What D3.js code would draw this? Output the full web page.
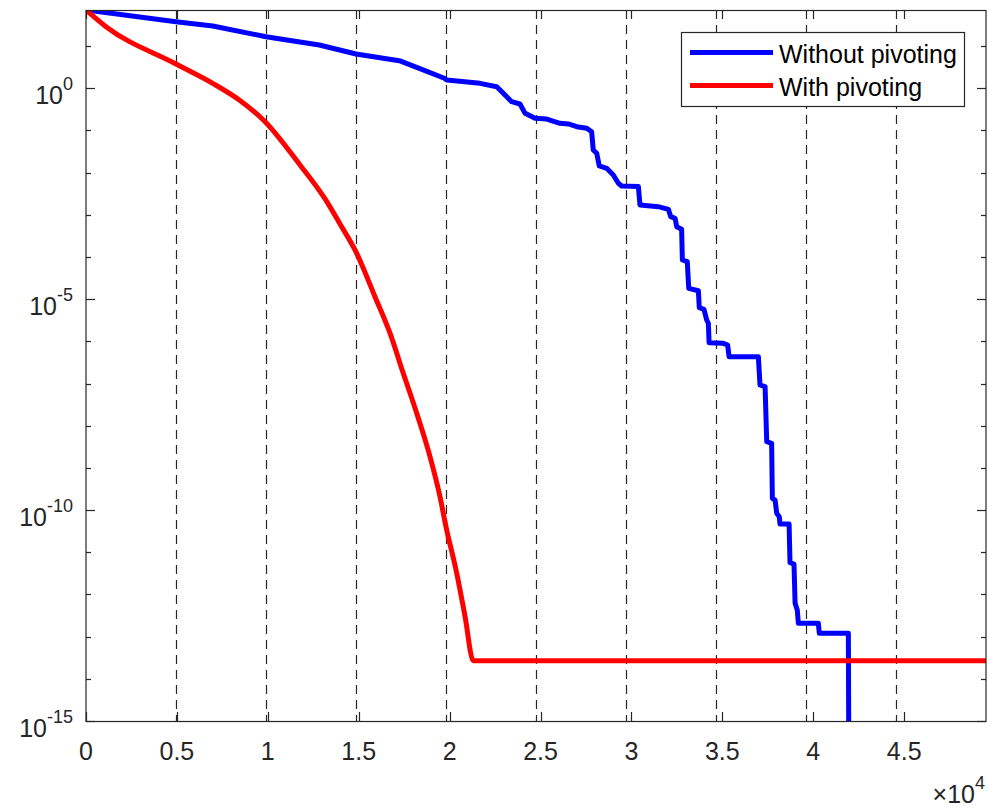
<!DOCTYPE html>
<html>
<head>
<meta charset="utf-8">
<script src="https://cdn.jsdelivr.net/npm/d3@7"></script>
<style>
  body { margin: 0; background: #fff; }
  text { font-family: "Liberation Sans", Arial, Helvetica, sans-serif; fill: #262626; }
</style>
</head>
<body>
<svg id="chart" width="987" height="808"></svg>
<script>
// ---- data ----
var xNoPivot = [0, 4950, 6970, 9900, 12830, 14850, 17230, 18330, 19710, 19840, 21670, 22590,
  22950, 23410, 23870, 24150, 24700, 25340, 26070, 26530, 26990, 27540, 27810, 27900, 28090,
  28230, 28640, 29000, 29280, 29460, 30380, 30470, 31480, 32030, 32160, 32400, 32490, 32760,
  32800, 33070, 33150, 33680, 33730, 33990, 34140, 34230, 34270, 35050, 35290, 35370, 36980,
  37070, 37350, 37440, 37710, 37750, 37900, 37990, 38130, 38170, 38670, 38720, 38940, 39000,
  39120, 39180, 40280, 40330, 41930, 41965];
var yNoPivot = [71.8, 37.9, 30.0, 16.7, 10.6, 6.5, 4.51, 2.98, 1.73, 1.57, 1.31, 1.09,
  0.761, 0.481, 0.425, 0.255, 0.194, 0.187, 0.148, 0.1425, 0.123, 0.1126, 0.0936, 0.0345, 0.0288,
  0.0144, 0.01268, 0.00881, 0.0056, 0.00483, 0.0047, 0.00171, 0.00156, 0.00135, 9.04e-4, 8.28e-4, 5.24e-4, 4.54e-4,
  8.5e-5, 7.74e-5, 1.81e-5, 1.59e-5, 6.29e-6, 5.76e-6, 3.21e-6, 2.68e-6, 9.3e-7, 9.0e-7, 8.2e-7, 4.33e-7, 4.33e-7,
  9.25e-8, 8.43e-8, 4.19e-9, 3.84e-9, 1.9e-10, 1.73e-10, 8.4e-11, 6.97e-11, 4.68e-11, 4.68e-11, 5.66e-12, 5.27e-12, 6.17e-13,
  4.28e-13, 2.07e-13, 2.07e-13, 1.2e-13, 1.2e-13, 1e-17];

var xPivot = [0, 1100, 4950, 6970, 8430, 9850, 11770, 13150, 13970, 14850, 15900, 16720,
  17450, 18190, 18920, 19470, 19800, 20390, 20850, 21300, 49500];
var yPivot = [71.8, 28.9, 3.77, 1.31, 0.528, 0.1615, 0.0152, 2.38e-3, 6.07e-4, 1.32e-4, 1.13e-5, 1.56e-6,
  1.75e-7, 1.97e-8, 1.85e-9, 2.08e-10, 4.04e-11, 3.18e-12, 2.97e-13, 2.69e-14, 2.69e-14];

var seriesNames = ["Without pivoting", "With pivoting"];
var seriesColors = ["#0000ff", "#ff0000"];

var gridX = [4950, 9900, 14850, 19800, 24750, 29700, 34650, 39600, 44550];
var xTicks = [0, 5000, 10000, 15000, 20000, 25000, 30000, 35000, 40000, 45000];
var xTickLabels = ["0", "0.5", "1", "1.5", "2", "2.5", "3", "3.5", "4", "4.5"];
var yMajorExp = [-15, -10, -5, 0];
var yMinorExp = [-14, -13, -12, -11, -9, -8, -7, -6, -4, -3, -2, -1, 1];

// ---- layout ----
var margin = { left: 86, right: 986, top: 10, bottom: 721 };
var svg = d3.select("#chart");

var x = d3.scaleLinear().domain([0, 49500]).range([margin.left, margin.right]);
var y = d3.scaleLog()
  .domain([1e-15, d3.max(yNoPivot.concat(yPivot))])
  .range([margin.bottom, margin.top]);

svg.append("defs").append("clipPath").attr("id", "plotclip")
  .append("rect")
  .attr("x", margin.left).attr("y", margin.top)
  .attr("width", margin.right - margin.left).attr("height", margin.bottom - margin.top);

// dashed vertical lines
svg.append("g").selectAll("line").data(gridX).enter().append("line")
  .attr("x1", function (d) { return Math.round(x(d)) + 0.5; })
  .attr("x2", function (d) { return Math.round(x(d)) + 0.5; })
  .attr("y1", margin.top).attr("y2", margin.bottom)
  .attr("stroke", "#262626")
  .attr("stroke-width", 1.2)
  .attr("stroke-dasharray", "9,6");

// curves (the pivoted one is smooth, the other one has steps)
var series = [
  { name: seriesNames[0], color: seriesColors[0], xs: xNoPivot, ys: yNoPivot, curve: d3.curveLinear },
  { name: seriesNames[1], color: seriesColors[1], xs: xPivot, ys: yPivot, curve: d3.curveMonotoneX }
];

svg.append("g").attr("clip-path", "url(#plotclip)")
  .selectAll("path").data(series).enter().append("path")
  .attr("d", function (s) {
    return d3.line()
      .x(function (d) { return x(d[0]); })
      .y(function (d) { return y(d[1]); })
      .curve(s.curve)(d3.zip(s.xs, s.ys));
  })
  .attr("fill", "none")
  .attr("stroke", function (s) { return s.color; })
  .attr("stroke-width", 5)
  .attr("stroke-linejoin", "round");

// axes box
var axes = svg.append("g").attr("stroke", "#262626").attr("stroke-width", 1.2);
axes.append("rect")
  .attr("x", margin.left).attr("y", margin.top + 0.5)
  .attr("width", margin.right - margin.left).attr("height", margin.bottom - margin.top)
  .attr("fill", "none");

// x ticks (bottom + top, inward)
xTicks.forEach(function (t) {
  var px = Math.round(x(t)) + 0.5;
  axes.append("line").attr("x1", px).attr("x2", px).attr("y1", margin.bottom).attr("y2", margin.bottom - 9);
  axes.append("line").attr("x1", px).attr("x2", px).attr("y1", margin.top).attr("y2", margin.top + 9);
});
// y ticks (left + right)
yMajorExp.forEach(function (e) {
  var py = Math.round(y(Math.pow(10, e))) + 0.5;
  axes.append("line").attr("x1", margin.left).attr("x2", margin.left + 9).attr("y1", py).attr("y2", py);
  axes.append("line").attr("x1", margin.right).attr("x2", margin.right - 9).attr("y1", py).attr("y2", py);
});
yMinorExp.forEach(function (e) {
  var py = Math.round(y(Math.pow(10, e))) + 0.5;
  axes.append("line").attr("x1", margin.left).attr("x2", margin.left + 5).attr("y1", py).attr("y2", py);
  axes.append("line").attr("x1", margin.right).attr("x2", margin.right - 5).attr("y1", py).attr("y2", py);
});

// x tick labels
svg.append("g").selectAll("text").data(xTicks).enter().append("text")
  .attr("x", function (d) { return x(d); })
  .attr("y", 760)
  .attr("text-anchor", "middle")
  .attr("font-size", 25)
  .text(function (d, i) { return xTickLabels[i]; });

// y tick labels 10^n
yMajorExp.forEach(function (e) {
  var t = svg.append("text")
    .attr("x", margin.left - 13)
    .attr("y", y(Math.pow(10, e)) + 16)
    .attr("text-anchor", "end")
    .attr("font-size", 25);
  t.append("tspan").text("10");
  t.append("tspan").attr("font-size", 18).attr("dy", -14).text(e === 0 ? "0" : String(e));
});

// x10^4 multiplier
var mult = svg.append("text")
  .attr("x", 985).attr("y", 803)
  .attr("text-anchor", "end")
  .attr("font-size", 25);
mult.append("tspan").text("\u00d710");
mult.append("tspan").attr("font-size", 18).attr("dy", -14).text("4");

// legend
var lg = svg.append("g");
lg.append("rect")
  .attr("x", 681.5).attr("y", 32.5).attr("width", 283).attr("height", 74)
  .attr("fill", "#fff").attr("stroke", "#262626").attr("stroke-width", 1.2);
series.forEach(function (s, i) {
  var ly = 52.5 + i * 33;
  lg.append("line")
    .attr("x1", 690).attr("x2", 773).attr("y1", ly).attr("y2", ly)
    .attr("stroke", s.color).attr("stroke-width", 5);
  lg.append("text")
    .attr("x", 779).attr("y", ly + 10)
    .attr("font-size", 25)
    .style("fill", "#000")
    .text(s.name);
});
</script>
</body>
</html>
